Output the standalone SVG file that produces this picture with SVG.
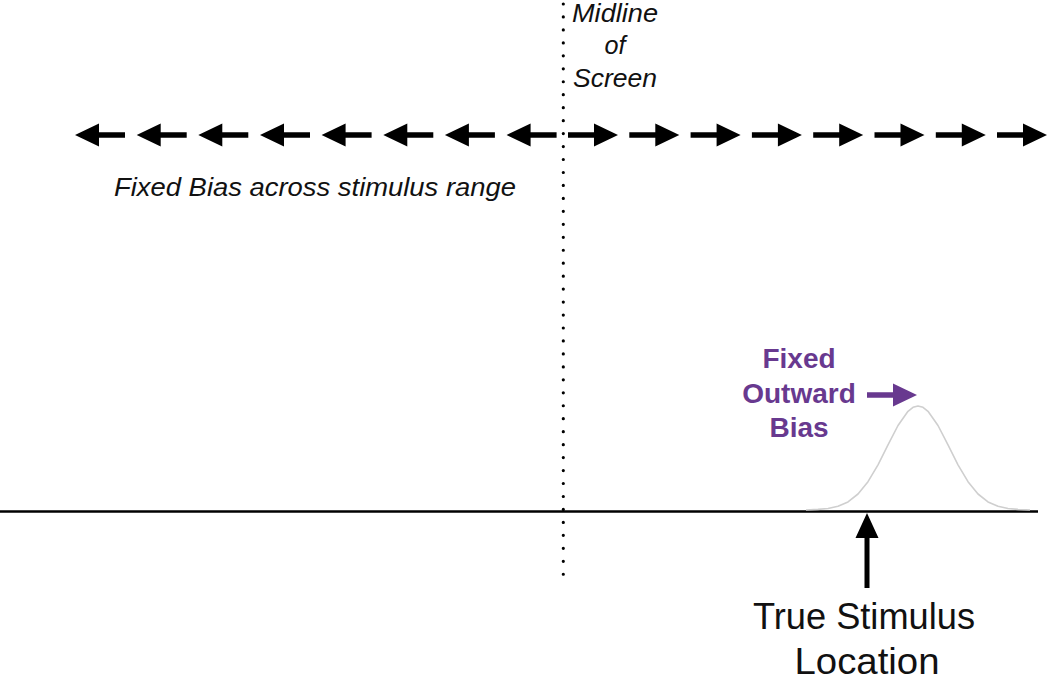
<svg xmlns="http://www.w3.org/2000/svg" xmlns:xlink="http://www.w3.org/1999/xlink" width="1050" height="682" viewBox="0 0 1050 682">
  <style>
    .it { font-family: "Liberation Sans", Arial, sans-serif; font-style: italic; font-size: 26px; fill: #111; }
    .pur { font-family: "Liberation Sans", Arial, sans-serif; font-weight: bold; font-size: 28px; fill: #68398f; text-anchor: middle; }
    .lbl { font-family: "Liberation Sans", Arial, sans-serif; font-size: 36px; fill: #111; text-anchor: middle; }
    .blk { fill: #000; }
  </style>
  <defs>
    <path id="la" d="M0,0 L24,-11.5 L24,-2.7 L50,-2.7 L50,2.7 L24,2.7 L24,11.5 Z"/>
    <path id="ra" d="M0,0 L-24,-11.5 L-24,-2.7 L-50,-2.7 L-50,2.7 L-24,2.7 L-24,11.5 Z"/>
  </defs>
  <rect width="1050" height="682" fill="#fff"/>

  <g id="midline">
    <line x1="563.3" y1="4" x2="563.3" y2="575" stroke="#000" stroke-width="3.2" stroke-linecap="round" stroke-dasharray="0 12.96"/>
    <text class="it" x="615" y="22" font-size="24" text-anchor="middle" textLength="86" lengthAdjust="spacingAndGlyphs">Midline</text>
    <text class="it" x="615" y="54" font-size="24" text-anchor="middle" textLength="21" lengthAdjust="spacingAndGlyphs">of</text>
    <text class="it" x="615" y="87" font-size="24" text-anchor="middle" textLength="84" lengthAdjust="spacingAndGlyphs">Screen</text>
  </g>

  <g id="bias-label">
    <text class="it" x="114" y="196" font-size="27" textLength="402" lengthAdjust="spacingAndGlyphs">Fixed Bias across stimulus range</text>
  </g>

  <g id="axis">
    <line x1="0" y1="511.5" x2="1038" y2="511.5" stroke="#000" stroke-width="2.5"/>
  </g>

  <g id="distribution">
    <polyline fill="none" stroke="#cfcfcf" stroke-width="1.6" stroke-linejoin="round" points="806,510 818,509.4 828,508.5 838,506.3 848,501.9 858,494 868,481.7 878,464.8 888,444.9 898,425.5 908,411.3 913,407.3 918,406 923,407.3 928,411.3 938,425.5 948,444.9 958,464.8 968,481.7 978,494 988,501.9 998,506.3 1008,508.5 1018,509.4 1030,510"/>
  </g>

  <g id="outward-bias">
    <text class="pur" x="799" y="368">Fixed</text>
    <text class="pur" x="799" y="403">Outward</text>
    <text class="pur" x="799" y="437">Bias</text>
  </g>

  <g id="true-stimulus">
    <text class="lbl" x="864" y="629" textLength="222" lengthAdjust="spacingAndGlyphs">True Stimulus</text>
    <text class="lbl" x="867" y="674" font-size="35" textLength="145" lengthAdjust="spacingAndGlyphs">Location</text>
  </g>

  <g id="connectors">
    <use href="#la" xlink:href="#la" class="blk" x="75" y="135"/>
    <use href="#la" xlink:href="#la" class="blk" x="136.7" y="135"/>
    <use href="#la" xlink:href="#la" class="blk" x="198.3" y="135"/>
    <use href="#la" xlink:href="#la" class="blk" x="260" y="135"/>
    <use href="#la" xlink:href="#la" class="blk" x="321.6" y="135"/>
    <use href="#la" xlink:href="#la" class="blk" x="383.3" y="135"/>
    <use href="#la" xlink:href="#la" class="blk" x="444.9" y="135"/>
    <use href="#la" xlink:href="#la" class="blk" x="506.6" y="135"/>
    <use href="#ra" xlink:href="#ra" class="blk" x="618" y="135"/>
    <use href="#ra" xlink:href="#ra" class="blk" x="679.3" y="135"/>
    <use href="#ra" xlink:href="#ra" class="blk" x="740.6" y="135"/>
    <use href="#ra" xlink:href="#ra" class="blk" x="801.9" y="135"/>
    <use href="#ra" xlink:href="#ra" class="blk" x="863.2" y="135"/>
    <use href="#ra" xlink:href="#ra" class="blk" x="924.5" y="135"/>
    <use href="#ra" xlink:href="#ra" class="blk" x="985.8" y="135"/>
    <use href="#ra" xlink:href="#ra" class="blk" x="1047" y="135"/>
    <use href="#ra" xlink:href="#ra" fill="#68398f" x="917" y="395"/>
    <polygon class="blk" points="867,513 878.5,538 869.5,538 869.5,588 864.5,588 864.5,538 855.5,538"/>
  </g>
</svg>
